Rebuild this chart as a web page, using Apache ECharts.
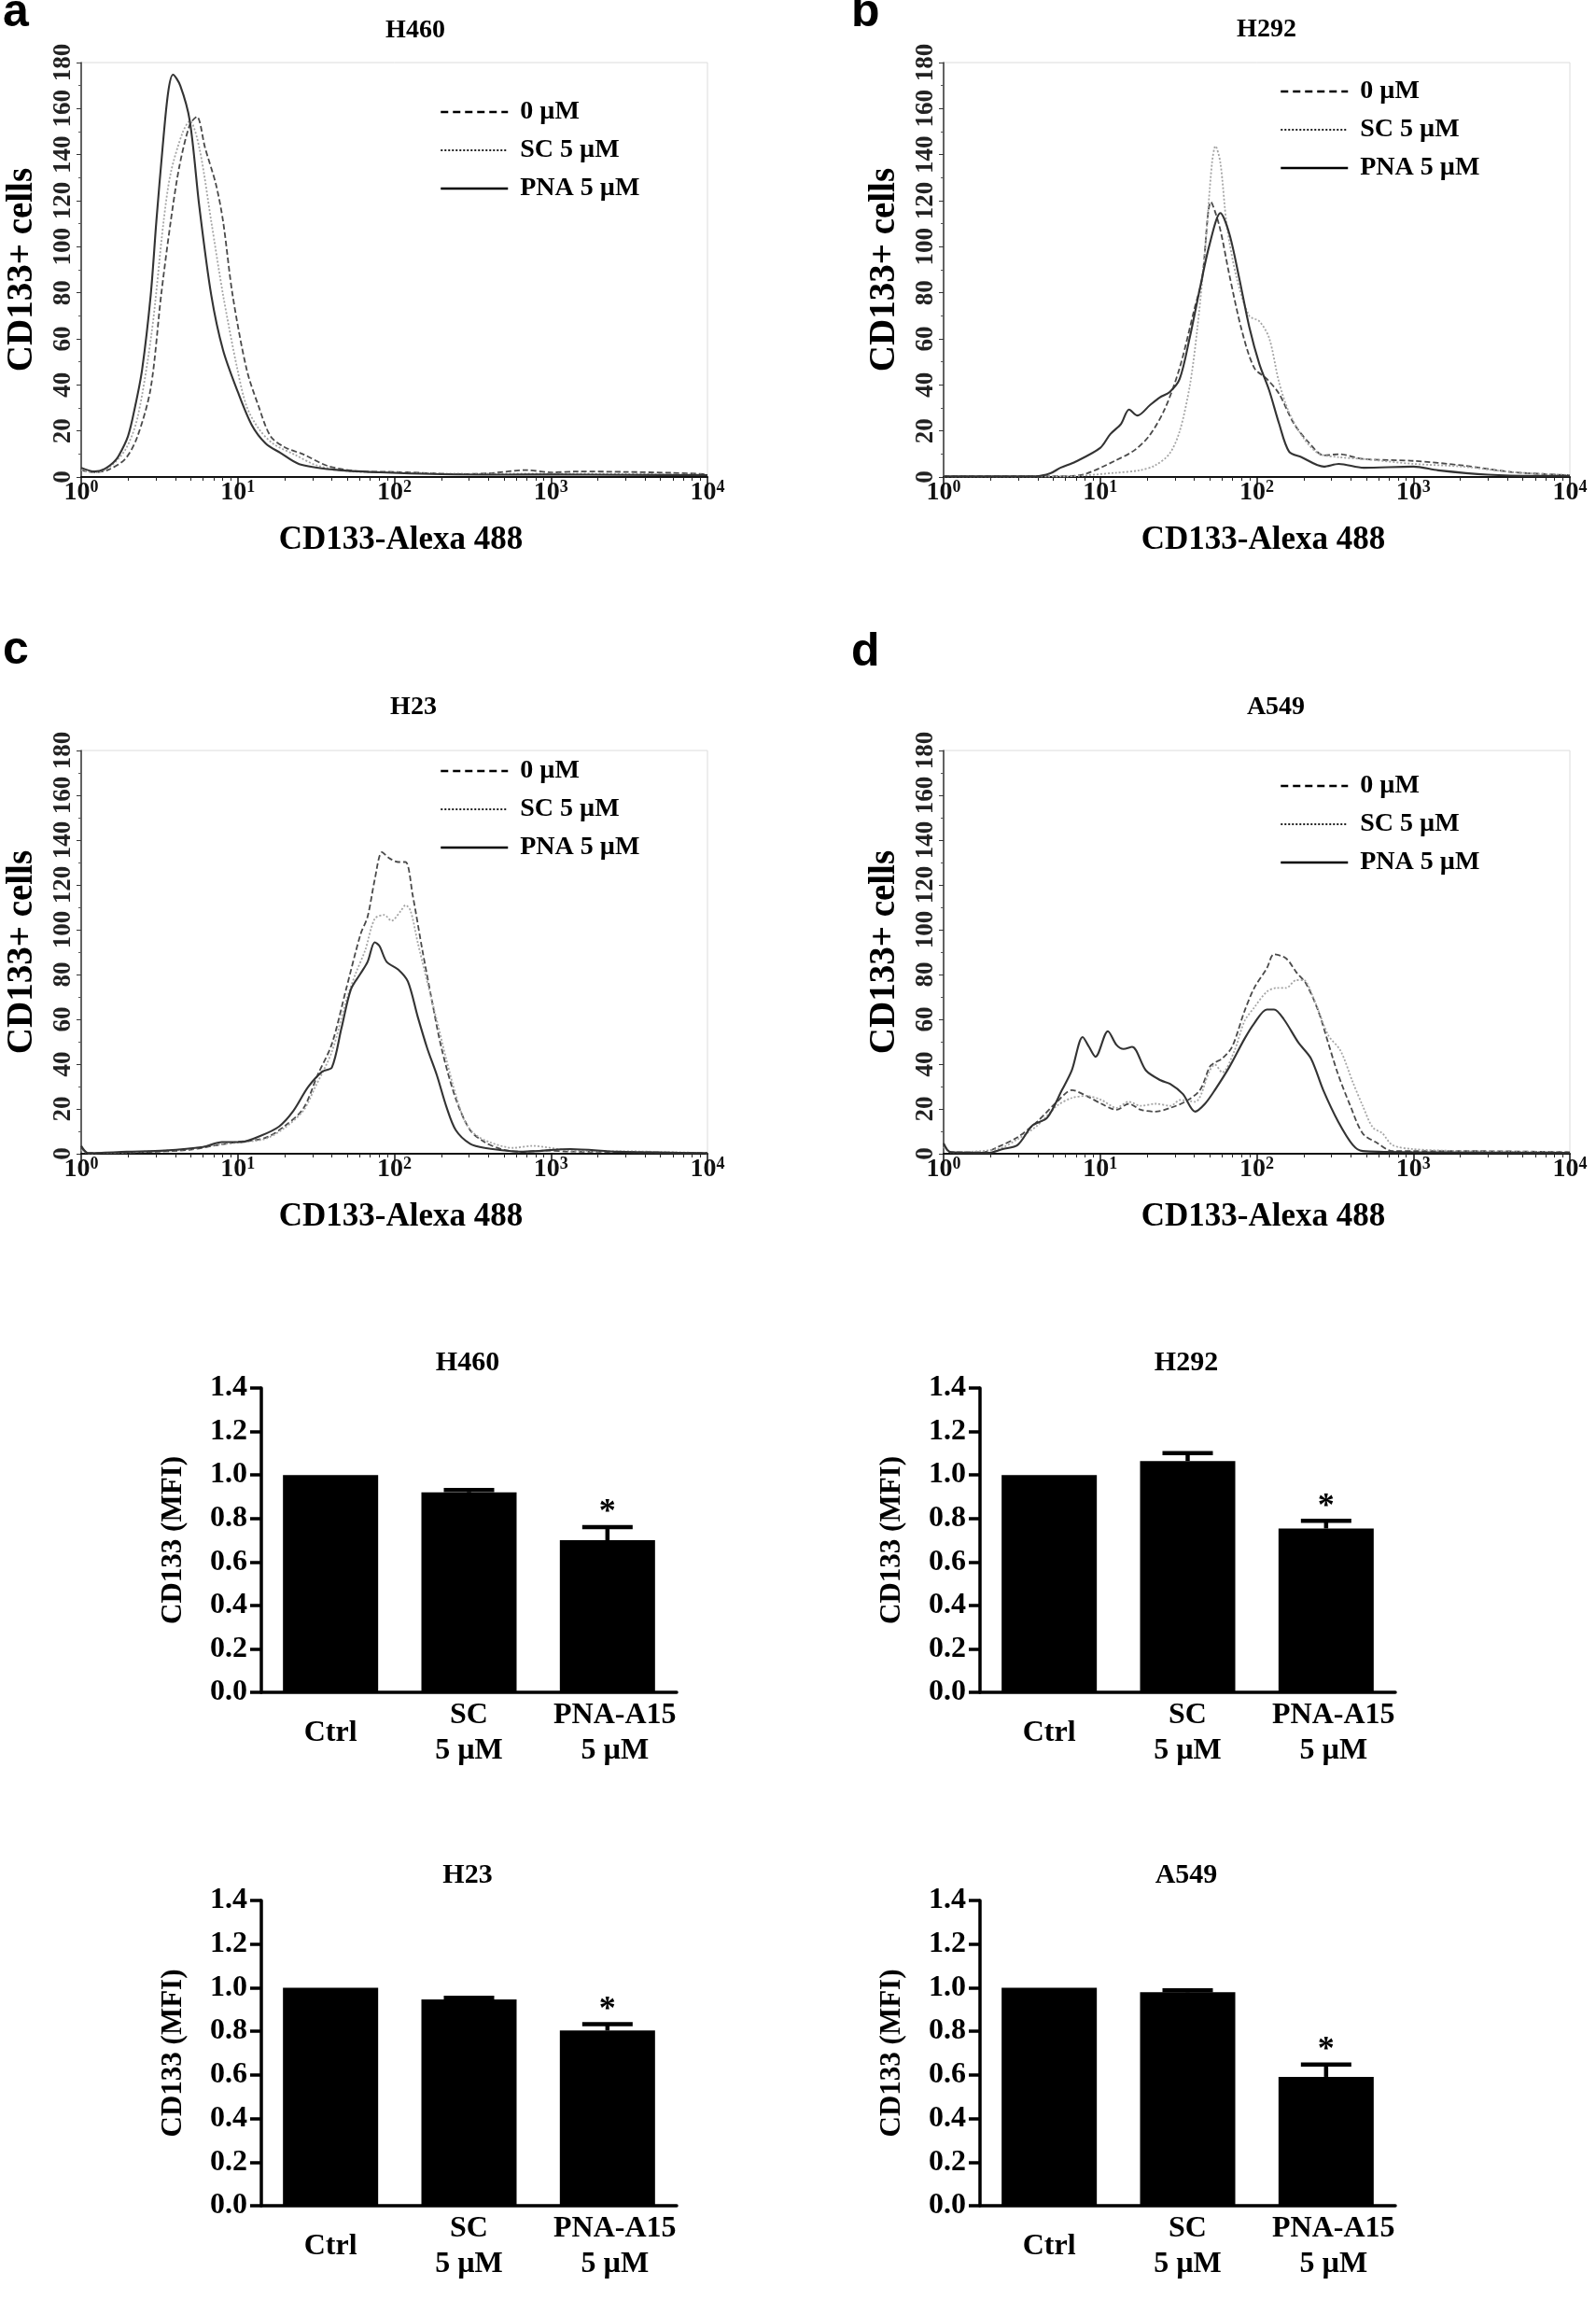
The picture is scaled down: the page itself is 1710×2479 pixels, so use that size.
<!DOCTYPE html>
<html><head><meta charset="utf-8">
<script src="https://cdn.jsdelivr.net/npm/echarts@6/dist/echarts.min.js"></script>
<style>html,body{margin:0;padding:0;background:#fff}#c{width:1710px;height:2479px}</style>
</head><body><div id="c"></div>
<script>
// ---------------- DATA ----------------
const seriesNames = ['0 µM', 'SC 5 µM', 'PNA 5 µM'];
const histTitles = ['H460', 'H292', 'H23', 'A549'];
const panelLetters = ['a', 'b', 'c', 'd'];
const histYTicks = [0, 20, 40, 60, 80, 100, 120, 140, 160, 180];
const histXDecades = [1, 10, 100, 1000, 10000];

// H460 histogram [intensity, count]
const a_zero = [[1,3],[1.22,2],[1.5,3.2],[1.92,8],[2.29,17.7],[2.78,38.6],[3.24,79],[3.73,111],[4.24,135],[4.94,153],[5.48,156.5],[6.18,143],[7.26,127],[8.06,111],[9.27,79],[11.4,46.7],[13.6,30.6],[16.2,17.7],[20,12.9],[26.5,9.7],[37.6,4.8],[61.5,2.4],[100,2.2],[150,1.8],[250,1.2],[400,1.6],[700,3],[1000,2],[1500,2.4],[3000,2.2],[6000,1.8],[10000,1.2]];
const a_sc = [[1,3],[1.22,2],[1.5,4],[1.92,12],[2.29,25.8],[2.82,62.8],[3.36,111],[3.73,132],[4.45,149.7],[4.94,154.6],[5.68,143],[6.77,111],[8.06,79],[9.95,46.7],[11.4,30.6],[13.6,21],[16.8,14.5],[23.1,9.7],[32.7,4.8],[53.5,2.4],[100,2],[300,1.4],[1000,1.5],[3000,1.3],[10000,1]];
const a_pna = [[1,4],[1.22,2.4],[1.41,3.5],[1.61,6.4],[1.73,9],[1.99,17.7],[2.21,30.6],[2.45,46.7],[2.78,79],[3.02,111],[3.31,143],[3.6,167.5],[3.86,174.7],[4.29,170],[4.94,154.6],[5.68,117.5],[6.77,79],[8.06,55],[10,37],[12.3,22.5],[15.1,14.5],[18.7,10.5],[24.7,5.6],[40.7,3.2],[81.3,2],[200,1.2],[500,1],[1000,1.1],[3000,0.9],[10000,0.8]];

// H292 histogram
const b_zero = [[1,0.3],[6,0.3],[8.03,1.3],[12.4,7],[16.7,11.8],[20.8,18.3],[25.9,29.6],[32.2,47.4],[40.1,73.3],[44.8,86.2],[51,119.4],[57.8,108.9],[66.8,87.9],[80.3,63.6],[96.4,47.4],[116,42.6],[139,36.1],[173,23.1],[215,15],[268,9.4],[334,9.9],[482,7.8],[1000,7],[2075,5],[4315,2.1],[10000,0.8]];
const b_sc = [[1,0.3],[6,0.3],[12.4,1.8],[17.9,2.9],[22.4,5],[27.8,10.2],[32.2,19.9],[37.3,39.3],[41.6,63.6],[46.4,96],[51.8,136.4],[54.5,143.7],[58.6,136.4],[64.5,108.9],[74.6,86.2],[89.6,70],[104,67.6],[120,60.4],[139,41],[161,28],[200,16.7],[249,10.2],[334,8.6],[482,7.8],[1000,5.7],[2075,4.5],[4315,2.1],[10000,0.8]];
const b_pna = [[1,0.3],[3.87,0.3],[4.81,1.6],[5.57,4],[6.94,6.6],[10,12.6],[11.6,18.6],[13.6,23.1],[15.3,29.3],[17.3,26.7],[20.8,31.2],[24,34.5],[27.8,36.9],[32.2,42.6],[37.3,60.4],[43.2,81.4],[49.9,100.8],[58.6,114.6],[66.8,105.7],[77.4,86.2],[89.6,65.2],[104,49],[120,37.7],[139,23.1],[161,11],[193,8.6],[268,4.5],[334,5.7],[482,4],[1000,4.5],[1442,2.9],[2992,1],[6170,0.5],[10000,0.5]];

// H23 histogram
const c_zero = [[1,2.6],[1.11,0.3],[2.4,0.7],[4.85,1.7],[6.89,3.5],[9.79,5.2],[14.9,7],[19.8,12.2],[26.2,20.1],[32.3,35],[39.9,49],[49.2,73.4],[60.8,97.9],[67.5,105.8],[75,122.4],[83.4,134.6],[92.5,132],[106,130.2],[118,130.2],[131,115.4],[151,90.9],[174,68.2],[200,47.2],[247,24.5],[305,10.5],[377,5.2],[499,1.7],[661,0.9],[939,1.4],[1334,1],[3820,0.7],[10000,0.3]];
const c_sc = [[1,1.7],[1.11,0.3],[2.4,0.9],[4.85,2.1],[6.89,3.8],[9.79,4.9],[14.9,6.6],[19.8,11.4],[26.2,19.2],[31.2,29.7],[39.9,45.5],[49.2,68.2],[56.6,80.4],[65.2,90.9],[75,104.9],[86.3,106.6],[95.9,104],[110,108.4],[118,111],[127,108.4],[141,94.4],[162,76.9],[187,59.4],[215,42],[247,26.2],[284,14],[327,8.7],[404,5.2],[574,2.6],[760,3.5],[1334,1.4],[3820,1],[10000,0.3]];
const c_pna = [[1,3.5],[1.11,0.3],[1.95,0.9],[3.42,1.4],[5.99,3],[7.93,5.2],[10.5,5.2],[13.9,7.9],[18.4,12.2],[22.7,19.2],[28.1,29.7],[34.7,36.7],[39.9,38.5],[45.9,55.9],[52.8,73.4],[60.8,80.4],[67.5,85.7],[75,94.4],[80.4,92.7],[89.3,85.7],[106,82.2],[122,76.9],[141,61.2],[162,47.2],[187,35],[215,21],[247,10.5],[305,4.4],[377,2.6],[661,0.9],[1334,2.1],[2692,0.9],[10000,0.3]];

// A549 histogram
const d_zero = [[1,3.9],[1.11,0.7],[1.79,0.7],[2.22,3],[2.97,7.4],[3.97,14.4],[5.3,23.2],[6.59,28.4],[8.19,25.8],[10.2,22.3],[12.7,19.6],[15.2,22.3],[18.2,19.6],[22.6,18.8],[28.1,20.5],[34.9,23.2],[43.4,28.4],[50.2,38.9],[54,40.7],[60.2,42.5],[69.6,47.7],[83.4,63.5],[96.4,74],[116,82.8],[129,89],[154,87.2],[179,81],[207,75.8],[248,63.5],[286,49.5],[331,35.4],[396,21.4],[475,9.1],[591,4.7],[735,1.2],[2028,1.2],[10000,0.7]];
const d_sc = [[1,3],[1.11,0.7],[2.22,2.1],[2.97,6.5],[3.97,12.6],[5.3,21.4],[6.59,24.9],[8.19,25.8],[10.2,24],[12.7,20.5],[15.2,23.2],[18.2,21.4],[22.6,22.3],[28.1,21.4],[32.5,24],[40.4,23.2],[50.2,37.2],[54,39.8],[60.2,36.3],[72.1,46],[83.4,59.1],[96.4,65.3],[116,72.3],[134,74],[154,74],[179,77.5],[199,77.5],[230,69.6],[286,53],[343,46],[411,31.9],[475,21.4],[550,11.8],[635,9.1],[735,3.9],[982,2.1],[2028,1.2],[10000,0.7]];
const d_pna = [[1,4.7],[1.11,0.7],[1.92,0.4],[2.39,2.1],[2.97,3.9],[3.69,12.6],[4.59,16.1],[5.7,28.4],[6.59,37.2],[7.73,52.1],[8.49,47.7],[9.34,43.3],[11.2,54.7],[12.7,48.6],[14.1,46.8],[16,47.7],[19.6,37.2],[24.3,32.8],[28.1,31.1],[33.7,26.7],[40.4,18.8],[46.7,22.3],[54,28.4],[67.1,38.9],[83.4,51.2],[96.4,58.2],[116,64.4],[129,64.4],[149,60],[185,49.5],[222,42.5],[266,28.4],[331,14.4],[411,3.9],[475,1.2],[982,0.7],[10000,0.4]];

// Bar charts: CD133 (MFI)
const barCategories = ['Ctrl', 'SC\n5 µM', 'PNA-A15\n5 µM'];
const barTitles = ['H460', 'H292', 'H23', 'A549'];
const barYTicks = [0.0, 0.2, 0.4, 0.6, 0.8, 1.0, 1.2, 1.4];
const h460_mean = [1.0, 0.92, 0.70];
const h460_sem  = [0, 0.011, 0.06];
const h292_mean = [1.0, 1.064, 0.754];
const h292_sem  = [0, 0.036, 0.035];
const h23_mean  = [1.0, 0.946, 0.804];
const h23_sem   = [0, 0.008, 0.029];
const a549_mean = [1.0, 0.979, 0.591];
const a549_sem  = [0, 0.009, 0.057];
const significant = [false, false, true];

// ---------------- LAYOUT / STYLE ----------------
const FS = "'Liberation Serif','Times New Roman',serif";
const FA = "'Liberation Sans',Arial,sans-serif";

const histPanels = [
  {left:87,  top:67,  height:444, titleX:445,  titleY:33,  letterX:3,   letterY:14,  legendLeft:471,  legendTop:105, data:[a_zero,a_sc,a_pna]},
  {left:1011,top:67,  height:444, titleX:1357, titleY:32,  letterX:912, letterY:14,  legendLeft:1371, legendTop:83,  data:[b_zero,b_sc,b_pna]},
  {left:87,  top:804, height:432, titleX:443,  titleY:758, letterX:3,   letterY:697, legendLeft:471,  legendTop:811, data:[c_zero,c_sc,c_pna]},
  {left:1011,top:804, height:432, titleX:1367, titleY:758, letterX:912, letterY:699, legendLeft:1371, legendTop:827, data:[d_zero,d_sc,d_pna]}
];
const histWidth = 671;
const lineStyles = [
  {color:'#4a4a4a', width:1.8, type:[6,3]},
  {color:'#a5a5a5', width:1.8, type:[2,2]},
  {color:'#333333', width:2.1, type:'solid'}
];
const legendLineStyles = [
  {color:'#000', width:2.5, type:[8,5]},
  {color:'#222', width:2, type:[2,2]},
  {color:'#000', width:2.5, type:'solid'}
];
const hiddenSymbol = {color:'rgba(0,0,0,0)', borderColor:'rgba(0,0,0,0)', borderWidth:0, opacity:0};

const barPanels = [
  {left:280,  top:1487, height:326, titleX:501,  titleY:1460, mean:h460_mean, sem:h460_sem},
  {left:1050, top:1487, height:326, titleX:1271, titleY:1460, mean:h292_mean, sem:h292_sem},
  {left:280,  top:2036, height:327, titleX:501,  titleY:2009, mean:h23_mean,  sem:h23_sem},
  {left:1050, top:2036, height:327, titleX:1271, titleY:2009, mean:a549_mean, sem:a549_sem}
];
const barGridWidth = 445;
const barLabelStyle = {verticalAlign:'middle', fontFamily:FS, fontWeight:'bold', fontSize:32, lineHeight:38, color:'#000'};

// minor log tick positions (axis decoration, in decades)
const minorTickPos = [];
for (let k = 0; k < histXDecades.length - 1; k++) for (let m = 2; m <= 9; m++) minorTickPos.push(k + Math.log10(m));

const grid = [], xAxis = [], yAxis = [], series = [], legend = [], graphic = [];

function txt(text, x, y, font, align) {
  return {type:'text', x:x, y:y, silent:true,
    style:{text:text, font:font, fill:'#000', align:align||'center', verticalAlign:'middle',
           textAlign:align||'center', textVerticalAlign:'middle'}};
}

// ----- histograms -----
histPanels.forEach((p, i) => {
  grid.push({left:p.left, top:p.top, width:histWidth, height:p.height, show:true,
             borderColor:'#dcdcdc', borderWidth:1, backgroundColor:'transparent', outerBoundsMode:'none', containLabel:false});
  xAxis.push({type:'log', logBase:10, gridIndex:i, position:'bottom', min:histXDecades[0], max:histXDecades[histXDecades.length-1],
    axisLine:{show:true, lineStyle:{color:'#111', width:2}},
    axisTick:{show:true, length:7, lineStyle:{color:'#111', width:1.5}},
    splitLine:{show:false},
    axisLabel:{margin:2, formatter: v => '{b|10}{s|' + Math.round(Math.log10(v)) + '}',
      rich:{ b:{fontFamily:FS, fontWeight:'bold', fontSize:28, color:'#111', lineHeight:30},
             s:{fontFamily:FS, fontWeight:'bold', fontSize:18, color:'#111', lineHeight:18, verticalAlign:'top'} }},
    name:'CD133-Alexa 488', nameLocation:'middle', nameGap:50,
    nameTextStyle:{fontFamily:FS, fontWeight:'bold', fontSize:35, color:'#000', padding:[0,0,0,14]}
  });
  yAxis.push({type:'value', gridIndex:i, min:histYTicks[0], max:histYTicks[histYTicks.length-1], interval:histYTicks[1]-histYTicks[0],
    axisLine:{show:true, lineStyle:{color:'#333', width:1.5}},
    axisTick:{show:true, length:5, lineStyle:{color:'#333', width:1}},
    minorTick:{show:true, splitNumber:2, length:3, lineStyle:{color:'#555', width:1}},
    splitLine:{show:false}, minorSplitLine:{show:false},
    axisLabel:{rotate:90, margin:5, fontFamily:FS, fontWeight:'bold', fontSize:27, color:'#222'},
    name:'CD133+ cells', nameLocation:'middle', nameGap:44,
    nameTextStyle:{fontFamily:FS, fontWeight:'bold', fontSize:39, color:'#000'}
  });
  // draw order: SC dotted, 0 µM dashed, PNA solid on top
  [1, 0, 2].forEach((s) => {
    series.push({type:'line', name:seriesNames[s], xAxisIndex:i, yAxisIndex:i, data:p.data[s],
      symbol:'none', showSymbol:false, smooth:0.3, lineStyle:lineStyles[s], z:2 + s, silent:true});
  });
  legend.push({orient:'vertical', left:p.legendLeft, top:p.legendTop, padding:0,
    itemWidth:72, itemHeight:14, itemGap:11, selectedMode:false,
    itemStyle:hiddenSymbol,
    textStyle:{fontFamily:FS, fontWeight:'bold', fontSize:28, color:'#000', lineHeight:30, padding:[0,0,0,8]},
    data: seriesNames.map((n, s) => ({name:n, lineStyle:legendLineStyles[s], itemStyle:hiddenSymbol}))
  });
  graphic.push(txt(histTitles[i], p.titleX, p.titleY, 'bold 28px ' + FS));
  graphic.push(txt(panelLetters[i], p.letterX, p.letterY, 'bold 50px ' + FA, 'left'));
});
// minor tick overlay axes for the log x axes
histPanels.forEach((p, i) => {
  xAxis.push({type:'value', gridIndex:i, position:'bottom', min:0, max:histXDecades.length-1,
    axisLine:{show:false}, axisLabel:{show:false}, splitLine:{show:false},
    axisTick:{show:true, customValues:minorTickPos, length:4, lineStyle:{color:'#222', width:1}}});
});

// ----- bar charts -----
function renderErr(params, api) {
  const idx = api.value(0), m = api.value(1), t = api.value(2), s = api.value(3);
  const base = api.coord([idx, m]);
  const top = api.coord([idx, t]);
  const children = [];
  if (t > m) {
    children.push({type:'line', shape:{x1:base[0], y1:base[1], x2:base[0], y2:top[1]}, style:{stroke:'#000', lineWidth:4.5}});
    children.push({type:'line', shape:{x1:base[0]-27, y1:top[1], x2:base[0]+27, y2:top[1]}, style:{stroke:'#000', lineWidth:4.5}});
  }
  if (s) {
    children.push({type:'text', style:{text:'*', x:base[0], y:top[1]-15, font:'bold 36px ' + FS, fill:'#000',
      align:'center', verticalAlign:'middle', textAlign:'center', textVerticalAlign:'middle'}});
  }
  return {type:'group', children:children};
}

barPanels.forEach((p, j) => {
  const gi = histPanels.length + j;
  grid.push({left:p.left, top:p.top, width:barGridWidth, height:p.height, show:false, outerBoundsMode:'none', containLabel:false});
  xAxis.push({type:'category', gridIndex:gi, boundaryGap:true,
    data: barCategories.map((c, k) => k === 2 ? {value:c, textStyle:Object.assign({}, barLabelStyle, {padding:[0,0,0,16]})} : c),
    axisLine:{show:true, lineStyle:{color:'#000', width:3.5}},
    axisTick:{show:false}, splitLine:{show:false},
    axisLabel:Object.assign({interval:0, margin:44}, barLabelStyle)
  });
  yAxis.push({type:'value', gridIndex:gi, min:barYTicks[0], max:barYTicks[barYTicks.length-1], interval:barYTicks[1]-barYTicks[0],
    axisLine:{show:true, lineStyle:{color:'#000', width:3.5}},
    axisTick:{show:true, length:12, lineStyle:{color:'#000', width:3.5}},
    splitLine:{show:false},
    axisLabel:{margin:15, formatter: v => v.toFixed(1), fontFamily:FS, fontWeight:'bold', fontSize:32, color:'#000'},
    name:'CD133 (MFI)', nameLocation:'middle', nameGap:79,
    nameTextStyle:{fontFamily:FS, fontWeight:'bold', fontSize:31, color:'#000'}
  });
  const xi = xAxis.length - 1, yi = yAxis.length - 1;
  series.push({type:'bar', xAxisIndex:xi, yAxisIndex:yi, data:p.mean, barWidth:102,
    itemStyle:{color:'#000'}, silent:true, z:2});
  series.push({type:'custom', xAxisIndex:xi, yAxisIndex:yi, renderItem:renderErr, silent:true, z:3,
    data:p.mean.map((m, k) => [k, m, m + p.sem[k], significant[k] ? 1 : 0])});
  graphic.push(txt(barTitles[j], p.titleX, p.titleY, 'bold 30px ' + FS));
});

const chart = echarts.init(document.getElementById('c'), null, {renderer:'canvas'});
chart.setOption({animation:false, backgroundColor:'#fff', grid, xAxis, yAxis, series, legend, graphic});
</script></body></html>
